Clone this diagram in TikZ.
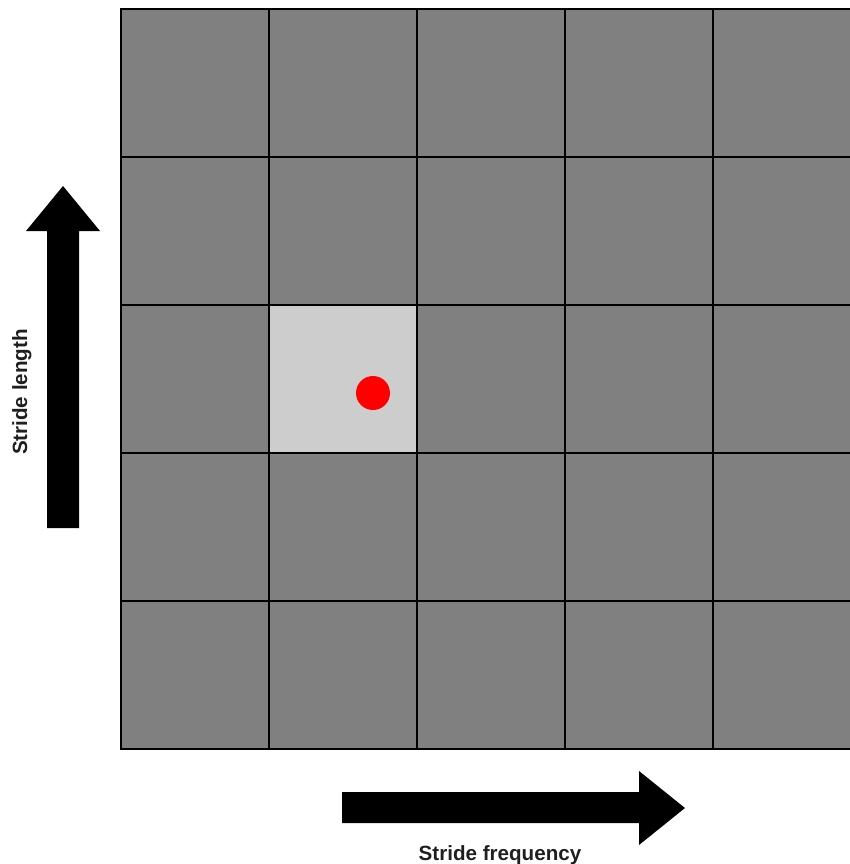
\documentclass[tikz,border=0pt]{standalone}
\usepackage{fontspec}
\setmainfont{Liberation Sans}
\definecolor{cellgray}{HTML}{808080}
\definecolor{cellhi}{HTML}{CDCDCD}
\definecolor{dotred}{HTML}{FF0000}
\begin{document}
\begin{tikzpicture}[x=0.5pt, y=-0.5pt,
    cell/.style={draw=black, line width=1.2pt, fill=cellgray},
    axislabel/.style={font=\fontsize{10.3}{12}\selectfont\bfseries, text=black!88, inner sep=0pt}]
    \useasboundingbox (0,0) rectangle (850,864);
    \clip (0,0) rectangle (850,864);
    % Grid of cells
    \foreach \i in {0,...,4} {
        \foreach \j in {0,...,4} {
            \draw[cell] (121+148*\i, 9+148*\j) rectangle ++(148,148);
        }
    }
    % Highlighted cell and point
    \draw[cell, fill=cellhi] (269,305) rectangle ++(148,148);
    \fill[dotred] (373,393) circle (17);

    % Block arrows
    \fill[black] (47,528) -- (47,231) -- (26,231) -- (63,186) -- (100,231) -- (79,231) -- (79,528) -- cycle;
    \fill[black] (342,792) -- (639,792) -- (639,771) -- (685,808) -- (639,845) -- (639,823) -- (342,823) -- cycle;

    \node[axislabel, rotate=90, anchor=base] (lenlabel) at (27,392) {Stride length};
    \node[axislabel, anchor=base] (freqlabel) at (500,860) {Stride frequency};
\end{tikzpicture}
\end{document}
